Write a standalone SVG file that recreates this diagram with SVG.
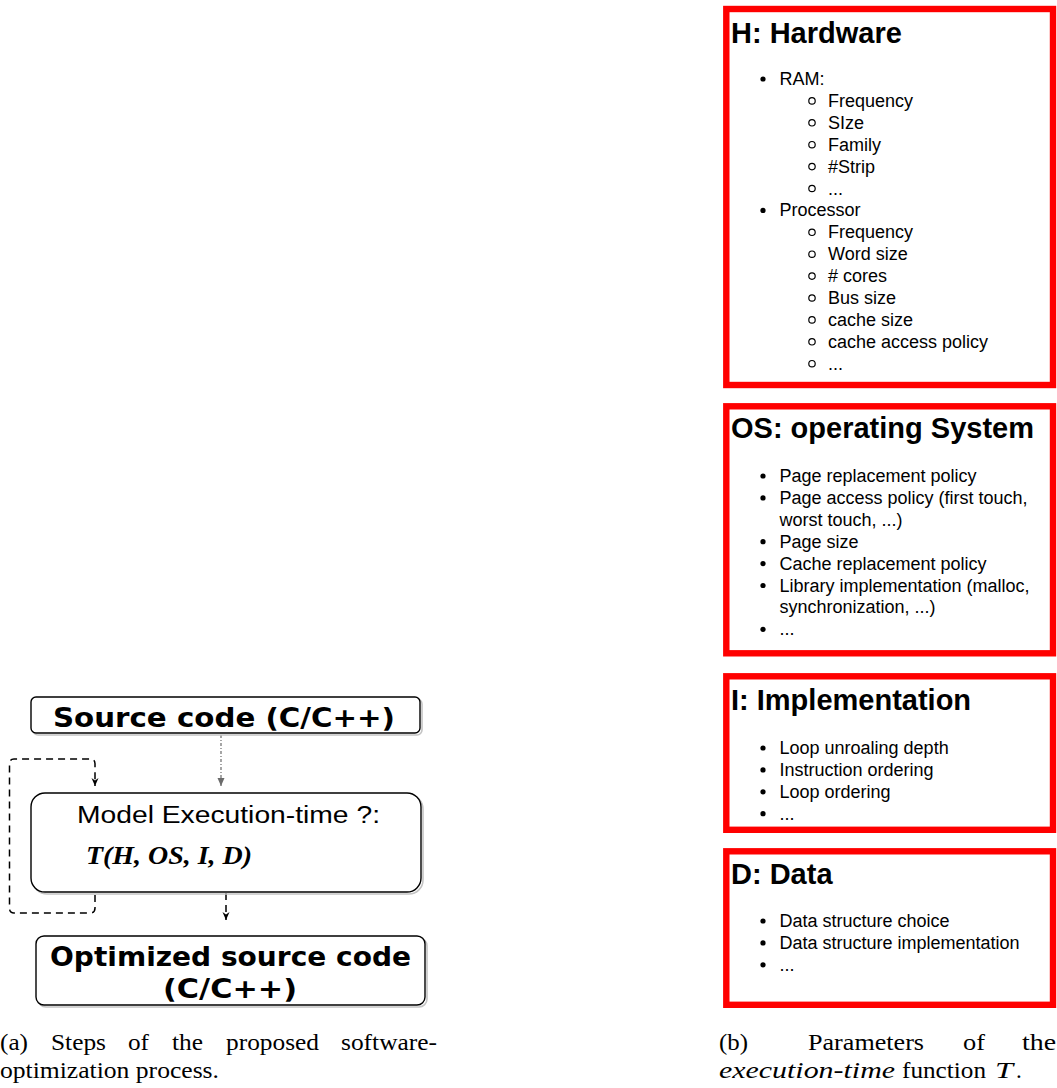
<svg xmlns="http://www.w3.org/2000/svg" width="1057" height="1088" viewBox="0 0 1057 1088">
  <style>
    .flowbox { fill: #ffffff; stroke: #000000; stroke-width: 1.4; }
    .shadow { fill: none; stroke: #c4c4c4; stroke-width: 1.6; }
    .boldlabel { font-family: "DejaVu Sans", Verdana, sans-serif; font-weight: bold; font-size: 26px; fill: #000; }
    .modeltext { font-family: "Liberation Sans", Arial, sans-serif; font-size: 23px; fill: #000; }
    .formula { font-family: "Liberation Serif", "Times New Roman", serif; font-weight: bold; font-style: italic; font-size: 25px; fill: #000; }
    .panel { fill: #ffffff; stroke: #ff0000; stroke-width: 6.4; }
    .ptitle { font-family: "Liberation Sans", Arial, sans-serif; font-weight: bold; font-size: 29px; fill: #000; }
    .item { font-family: "Liberation Sans", Arial, sans-serif; font-size: 18px; fill: #000; }
    .dot { fill: #000; }
    .ring { fill: none; stroke: #000; stroke-width: 1.2; }
    .cap { font-family: "Liberation Serif", "Times New Roman", serif; font-size: 23px; fill: #000; }
    .capi { font-style: italic; }
    .dash { fill: none; stroke: #000; stroke-width: 1.5; stroke-dasharray: 7 5; }
    .graydash { fill: none; stroke: #6b6b6b; stroke-width: 1.2; stroke-dasharray: 3 2 1 2; }
  </style>
  <defs>
    <marker id="arrowGray" markerUnits="userSpaceOnUse" markerWidth="10" markerHeight="10" refX="8" refY="3.5" orient="auto">
      <path d="M0,0 L8,3.5 L0,7 Z" fill="#6b6b6b"/>
    </marker>
    <marker id="arrowBlack" markerUnits="userSpaceOnUse" markerWidth="10" markerHeight="10" refX="8" refY="3.5" orient="auto">
      <path d="M0,0 L8,3.5 L0,7 L2.5,3.5 Z" fill="#000"/>
    </marker>
  </defs>

  <rect width="1057" height="1088" fill="#ffffff"/>

  <!-- (a) flow of the optimization process -->
  <g id="connectors">
    <path class="graydash" d="M221,735 L221,786" marker-end="url(#arrowGray)"/>
    <path class="dash" d="M226,893 L226,920" marker-end="url(#arrowBlack)"/>
    <path class="dash" d="M95,895 L95,908 Q95,913 90,913 L14,913 Q9.5,913 9.5,908 L9.5,764 Q9.5,759 14,759 L90,759 Q95,759 95,764 L95,786" marker-end="url(#arrowBlack)"/>
  </g>

  <g id="source">
    <rect class="shadow" x="33" y="699" width="389" height="36" rx="5"/>
    <rect class="flowbox" x="31" y="697" width="389" height="36" rx="5"/>
    <text class="boldlabel" x="53" y="727" textLength="342" lengthAdjust="spacingAndGlyphs">Source code (C/C++)</text>
  </g>

  <g id="model">
    <rect class="shadow" x="33" y="795" width="390" height="99" rx="14"/>
    <rect class="flowbox" x="31" y="793" width="390" height="99" rx="14"/>
    <text class="modeltext" x="77" y="823" textLength="303" lengthAdjust="spacingAndGlyphs">Model Execution-time ?:</text>
    <text class="formula" x="86" y="864" textLength="166" lengthAdjust="spacingAndGlyphs">T(H, OS, I, D)</text>
  </g>

  <g id="optimized">
    <rect class="shadow" x="38" y="938" width="389" height="69" rx="8"/>
    <rect class="flowbox" x="36" y="936" width="389" height="69" rx="8"/>
    <text class="boldlabel" x="50" y="966" textLength="361" lengthAdjust="spacingAndGlyphs">Optimized source code</text>
    <text class="boldlabel" x="163" y="998" textLength="134" lengthAdjust="spacingAndGlyphs">(C/C++)</text>
  </g>

  <!-- (b) parameters of the execution-time function -->
  <g id="hardware">
    <rect class="panel" x="726.3" y="9" width="326.7" height="376"/>
    <text class="ptitle" x="731" y="43">H: Hardware</text>
    <circle class="dot" cx="763" cy="79" r="2.6"/>
    <text class="item" x="779.5" y="85">RAM:</text>
    <circle class="ring" cx="812" cy="100.9" r="3.2"/>
    <text class="item" x="828" y="106.9">Frequency</text>
    <circle class="ring" cx="812" cy="122.8" r="3.2"/>
    <text class="item" x="828" y="128.8">SIze</text>
    <circle class="ring" cx="812" cy="144.7" r="3.2"/>
    <text class="item" x="828" y="150.7">Family</text>
    <circle class="ring" cx="812" cy="166.6" r="3.2"/>
    <text class="item" x="828" y="172.6">#Strip</text>
    <circle class="ring" cx="812" cy="188.5" r="3.2"/>
    <text class="item" x="828" y="194.5">...</text>
    <circle class="dot" cx="763" cy="210.4" r="2.6"/>
    <text class="item" x="779.5" y="216.4">Processor</text>
    <circle class="ring" cx="812" cy="232.3" r="3.2"/>
    <text class="item" x="828" y="238.3">Frequency</text>
    <circle class="ring" cx="812" cy="254.2" r="3.2"/>
    <text class="item" x="828" y="260.2">Word size</text>
    <circle class="ring" cx="812" cy="276.1" r="3.2"/>
    <text class="item" x="828" y="282.1"># cores</text>
    <circle class="ring" cx="812" cy="298" r="3.2"/>
    <text class="item" x="828" y="304">Bus size</text>
    <circle class="ring" cx="812" cy="319.9" r="3.2"/>
    <text class="item" x="828" y="325.9">cache size</text>
    <circle class="ring" cx="812" cy="341.8" r="3.2"/>
    <text class="item" x="828" y="347.8">cache access policy</text>
    <circle class="ring" cx="812" cy="363.7" r="3.2"/>
    <text class="item" x="828" y="369.7">...</text>
  </g>

  <g id="os">
    <rect class="panel" x="726.3" y="406.3" width="326.7" height="247"/>
    <text class="ptitle" x="731" y="438">OS: operating System</text>
    <circle class="dot" cx="763" cy="476" r="2.6"/>
    <text class="item" x="779.5" y="482">Page replacement policy</text>
    <circle class="dot" cx="763" cy="497.9" r="2.6"/>
    <text class="item" x="779.5" y="503.9">Page access policy (first touch,</text>
    <text class="item" x="779.5" y="525.8">worst touch, ...)</text>
    <circle class="dot" cx="763" cy="541.7" r="2.6"/>
    <text class="item" x="779.5" y="547.7">Page size</text>
    <circle class="dot" cx="763" cy="563.6" r="2.6"/>
    <text class="item" x="779.5" y="569.6">Cache replacement policy</text>
    <circle class="dot" cx="763" cy="585.5" r="2.6"/>
    <text class="item" x="779.5" y="591.5">Library implementation (malloc,</text>
    <text class="item" x="779.5" y="613.4">synchronization, ...)</text>
    <circle class="dot" cx="763" cy="629.3" r="2.6"/>
    <text class="item" x="779.5" y="635.3">...</text>
  </g>

  <g id="implementation">
    <rect class="panel" x="726.3" y="676.3" width="326.7" height="153.5"/>
    <text class="ptitle" x="731" y="710">I: Implementation</text>
    <circle class="dot" cx="763" cy="748" r="2.6"/>
    <text class="item" x="779.5" y="754">Loop unroaling depth</text>
    <circle class="dot" cx="763" cy="769.9" r="2.6"/>
    <text class="item" x="779.5" y="775.9">Instruction ordering</text>
    <circle class="dot" cx="763" cy="791.8" r="2.6"/>
    <text class="item" x="779.5" y="797.8">Loop ordering</text>
    <circle class="dot" cx="763" cy="813.7" r="2.6"/>
    <text class="item" x="779.5" y="819.7">...</text>
  </g>

  <g id="data">
    <rect class="panel" x="726.3" y="851.3" width="326.7" height="153.5"/>
    <text class="ptitle" x="731" y="884">D: Data</text>
    <circle class="dot" cx="763" cy="921" r="2.6"/>
    <text class="item" x="779.5" y="927">Data structure choice</text>
    <circle class="dot" cx="763" cy="942.9" r="2.6"/>
    <text class="item" x="779.5" y="948.9">Data structure implementation</text>
    <circle class="dot" cx="763" cy="964.8" r="2.6"/>
    <text class="item" x="779.5" y="970.8">...</text>
  </g>

  <!-- sub-figure captions (justified lines set word by word) -->
  <g id="caption-a" class="cap">
    <text x="0" y="1050" textLength="28" lengthAdjust="spacingAndGlyphs">(a)</text>
    <text x="51" y="1050" textLength="55" lengthAdjust="spacingAndGlyphs">Steps</text>
    <text x="128" y="1050" textLength="21" lengthAdjust="spacingAndGlyphs">of</text>
    <text x="172" y="1050" textLength="31" lengthAdjust="spacingAndGlyphs">the</text>
    <text x="226" y="1050" textLength="93" lengthAdjust="spacingAndGlyphs">proposed</text>
    <text x="341" y="1050" textLength="96" lengthAdjust="spacingAndGlyphs">software-</text>
    <text x="0" y="1078" textLength="219" lengthAdjust="spacingAndGlyphs">optimization process.</text>
  </g>
  <g id="caption-b" class="cap">
    <text x="719" y="1050" textLength="29" lengthAdjust="spacingAndGlyphs">(b)</text>
    <text x="808" y="1050" textLength="116" lengthAdjust="spacingAndGlyphs">Parameters</text>
    <text x="963" y="1050" textLength="22" lengthAdjust="spacingAndGlyphs">of</text>
    <text x="1022" y="1050" textLength="34" lengthAdjust="spacingAndGlyphs">the</text>
    <text class="capi" x="719" y="1078" textLength="176" lengthAdjust="spacingAndGlyphs">execution-time</text>
    <text x="902" y="1078" textLength="84" lengthAdjust="spacingAndGlyphs">function</text>
    <text class="capi" x="995" y="1078" textLength="18" lengthAdjust="spacingAndGlyphs">T</text>
    <text x="1016" y="1078">.</text>
  </g>
</svg>
